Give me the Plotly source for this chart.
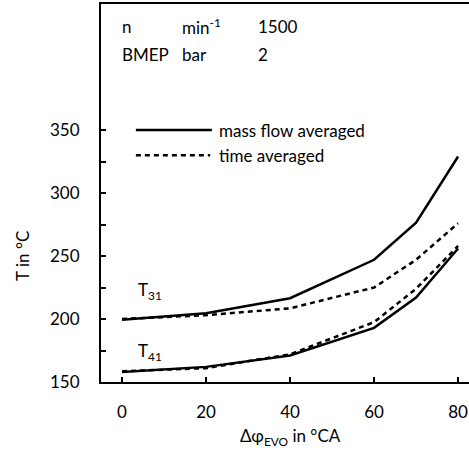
import plotly.graph_objects as go

x_evo = [0, 20, 40, 60, 70, 80]
t31_mass = [199.5, 204.5, 216.5, 247, 276.5, 329]
t31_time = [200, 203, 208.5, 225, 247, 276]
t41_mass = [158, 162, 171, 193, 217, 256]
t41_time = [158.5, 161, 172, 197.5, 224, 258]

y_ticks = [150, 175, 200, 225, 250, 275, 300, 325, 350]
y_labels = ["150", "", "200", "", "250", "", "300", "", "350"]
x_ticks = [0, 20, 40, 60, 80]

FONT = "Lato"
FS = 17
solid = dict(color="black", width=2.5)
dashed = dict(color="black", width=2.5, dash="5px,4px")

fig = go.Figure()
fig.add_trace(go.Scatter(x=x_evo, y=t31_mass, mode="lines", line=solid, showlegend=False))
fig.add_trace(go.Scatter(x=x_evo, y=t31_time, mode="lines", line=dashed, showlegend=False))
fig.add_trace(go.Scatter(x=x_evo, y=t41_mass, mode="lines", line=solid, showlegend=False))
fig.add_trace(go.Scatter(x=x_evo, y=t41_time, mode="lines", line=dashed, showlegend=False))

# legend samples
fig.add_shape(type="line", xref="x", yref="y", x0=3.3, x1=21.4, y0=350, y1=350, line=solid)
fig.add_shape(type="line", xref="x", yref="y", x0=3.3, x1=21.0, y0=330, y1=330, line=dashed)

def ann(x, y, text, xanchor="left", **kw):
    fig.add_annotation(x=x, y=y, xref="x", yref="y", text=text, showarrow=False,
                       xanchor=xanchor, yanchor="middle",
                       font=dict(family=FONT, size=FS, color="black"), **kw)

ann(22.6, 350, "mass flow averaged")
ann(22.6, 330, "time averaged")
ann(-0.5, 432, "n")
ann(13.8, 432, "min<sup>-1</sup>")
ann(31.9, 432, "1500")
ann(-0.5, 410, "BMEP")
ann(13.8, 410, "bar")
ann(31.9, 410, "2")
ann(3.3, 222, "T<sub>31</sub>")
ann(3.3, 174, "T<sub>41</sub>")

# axis titles
fig.add_annotation(x=40, y=-0.145, xref="x", yref="paper", text="Δφ<sub>EVO</sub> in °CA",
                   showarrow=False, xanchor="center", yanchor="middle",
                   font=dict(family=FONT, size=FS, color="black"))
fig.add_annotation(x=-0.215, y=250, xref="paper", yref="y", text="T in °C", textangle=-90,
                   showarrow=False, xanchor="center", yanchor="middle",
                   font=dict(family=FONT, size=FS, color="black"))

fig.update_layout(
    width=469, height=455,
    margin=dict(l=101, r=0, t=4, b=73),
    plot_bgcolor="white", paper_bgcolor="white",
    font=dict(family=FONT, size=FS, color="black"),
    xaxis=dict(range=[-5, 82.6], tickvals=x_ticks, ticks="inside", ticklen=5, tickwidth=1.5,
               tickcolor="black", showline=True, linecolor="black", linewidth=2, mirror=True,
               showgrid=False, zeroline=False, ticklabelstandoff=14),
    yaxis=dict(range=[150, 450], tickvals=y_ticks, ticktext=y_labels, ticks="inside", ticklen=5,
               tickwidth=1.5, tickcolor="black", showline=True, linecolor="black", linewidth=2,
               showgrid=False, zeroline=False, ticklabelstandoff=16),
)

fig.write_html("out.html")
